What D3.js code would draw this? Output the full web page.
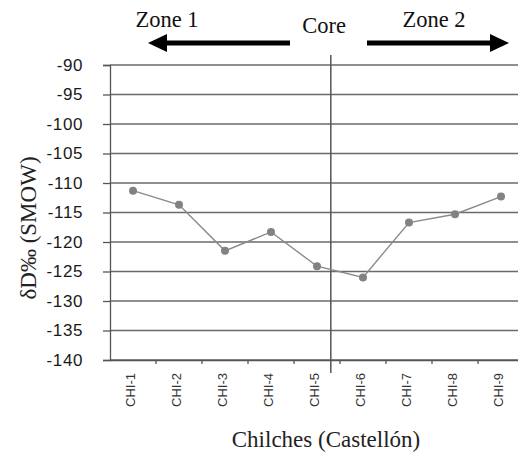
<!DOCTYPE html>
<html><head><meta charset="utf-8">
<script src="https://cdn.jsdelivr.net/npm/d3@7"></script>
<style>body{margin:0;background:#fff}svg{display:block}</style>
</head><body>
<svg id="c" width="518" height="456"></svg>
<script>
const categories = ["CHI-1","CHI-2","CHI-3","CHI-4","CHI-5","CHI-6","CHI-7","CHI-8","CHI-9"];
const values = [-111.3,-113.7,-121.5,-118.3,-124.1,-126.0,-116.7,-115.3,-112.3];
const yTicks = [-90,-95,-100,-105,-110,-115,-120,-125,-130,-135,-140];
const zoneLabels = ["Zone 1","Core","Zone 2"];

const svg = d3.select("#c");
const sans = "'Liberation Sans', Arial, sans-serif";
const serif = "'Liberation Serif', 'Times New Roman', serif";

const x = d3.scaleBand().domain(categories).range([110, 110 + 46*9]).padding(0);
const y = d3.scaleLinear().domain([-140,-90]).range([360,65]);
const cx = d => x(d) + x.bandwidth()/2;

// gridlines
svg.append("g").selectAll("line").data(yTicks).join("line")
  .attr("x1",110).attr("x2",x.range()[1])
  .attr("y1",d=>y(d)).attr("y2",d=>y(d))
  .attr("stroke","#6a6a6a").attr("stroke-width",1.3);

// y axis
const ya = svg.append("g").attr("transform","translate(110,0)")
  .call(d3.axisLeft(y).tickValues(yTicks).tickSize(7).tickPadding(20).tickFormat(d => String(d)));
ya.select(".domain").attr("stroke","#555").attr("stroke-width",1.3);
ya.selectAll(".tick line").attr("stroke","#555").attr("stroke-width",1.3);
ya.selectAll("text").attr("font-family",sans).attr("font-size",17).attr("fill","#1a1a1a")
  .style("letter-spacing","0.6px");

// x axis
const xa = svg.append("g").attr("transform","translate(0,360)")
  .call(d3.axisBottom(x).tickSize(0).tickPadding(0));
xa.select(".domain").attr("stroke","#555").attr("stroke-width",1.3);
xa.selectAll(".tick text")
  .attr("font-family",sans).attr("font-size",13).attr("fill","#333")
  .attr("text-anchor","end")
  .attr("transform","translate(-3,13) rotate(-90)")
  .attr("x",0).attr("y",0).attr("dy","0.35em");
// boundary ticks
svg.append("g").selectAll("line").data(categories.slice(1)).join("line")
  .attr("x1",d=>x(d)).attr("x2",d=>x(d)).attr("y1",360).attr("y2",364)
  .attr("stroke","#555").attr("stroke-width",1.3);

// core divider line
const coreX = x("CHI-5") + x.bandwidth()*0.8;
svg.append("line").attr("x1",coreX).attr("x2",coreX).attr("y1",55).attr("y2",373)
  .attr("stroke","#555").attr("stroke-width",1.5);

// data line
const line = d3.line().x((d,i)=>cx(categories[i])).y(d=>y(d));
svg.append("path").datum(values).attr("d",line)
  .attr("fill","none").attr("stroke","#8a8a8a").attr("stroke-width",1.4);
svg.append("g").selectAll("circle").data(values).join("circle")
  .attr("cx",(d,i)=>cx(categories[i])).attr("cy",d=>y(d)).attr("r",4)
  .attr("fill","#828282");

// arrows
const ay = 43;
svg.append("line").attr("x1",164).attr("x2",290).attr("y1",ay).attr("y2",ay)
  .attr("stroke","#000").attr("stroke-width",5);
svg.append("path").attr("d",`M148,${ay} L167,${ay-9} L167,${ay+9} Z`).attr("fill","#000");
svg.append("line").attr("x1",367).attr("x2",492).attr("y1",ay).attr("y2",ay)
  .attr("stroke","#000").attr("stroke-width",5);
svg.append("path").attr("d",`M509,${ay} L490,${ay-9} L490,${ay+9} Z`).attr("fill","#000");

// zone labels
const zl = [[167,27],[324,33],[434,27]];
svg.append("g").selectAll("text").data(zoneLabels).join("text")
  .attr("x",(d,i)=>zl[i][0]).attr("y",(d,i)=>zl[i][1])
  .attr("text-anchor","middle").attr("font-family",serif).attr("font-size",22.5)
  .attr("fill","#111").text(d=>d);

// axis titles
svg.append("text").attr("transform","translate(36,228) rotate(-90)")
  .attr("text-anchor","middle").attr("font-family",serif).attr("font-size",23)
  .attr("fill","#222").text("δD‰ (SMOW)");
svg.append("text").attr("x",326).attr("y",447)
  .attr("text-anchor","middle").attr("font-family",serif).attr("font-size",23)
  .attr("fill","#222").text("Chilches (Castellón)");
</script>
</body></html>
